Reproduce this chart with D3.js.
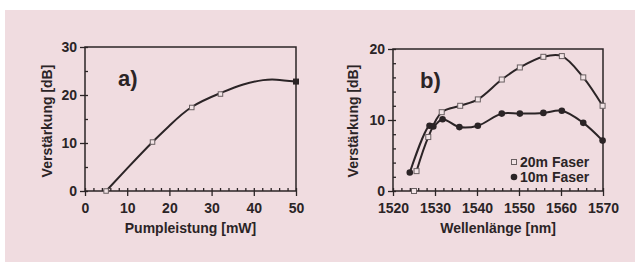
<!DOCTYPE html>
<html>
<head>
<meta charset="utf-8">
<script src="https://cdn.jsdelivr.net/npm/d3@7"></script>
<style>
  body { margin: 0; background: #fff; }
  svg { display: block; font-family: "Liberation Sans", Arial, sans-serif; font-weight: bold; }
  .tick text { font-family: "Liberation Sans", Arial, sans-serif; font-weight: bold; font-size: 14px; fill: #2b2426; }
  .tick line { stroke: #2b2426; stroke-width: 1.3; }
</style>
</head>
<body>
<svg id="chart" width="638" height="262"></svg>
<script>
// panel a: gain vs pump power
var pumpCurve = [[5, 0], [10, 4.7], [16, 10.2], [20, 13.6], [25.3, 17.5], [32.1, 20.4],
                 [37.5, 22.2], [42.2, 23.1], [45.4, 23.2], [50, 22.8]];
var pumpPoints = [[5, 0], [16, 10.2], [25.3, 17.4], [32.1, 20.2]];
var pumpPointsFilled = [[50, 22.8]];
var aXTicks = [0, 10, 20, 30, 40, 50];
var aYTicks = [0, 10, 20, 30];

// panel b: gain vs wavelength
var fiber20 = [[1525.6, 2.8], [1528.4, 7.6], [1531.6, 11.1], [1536, 12.0], [1540.2, 12.9],
               [1545.9, 15.7], [1550.2, 17.4], [1555.8, 18.9], [1560.2, 19.0],
               [1565.3, 16.0], [1569.9, 12.0]];
var fiber20Loose = [[1525, 0]];
var fiber10 = [[1524.0, 2.6], [1528.7, 9.2], [1529.6, 9.1], [1531.8, 10.1], [1535.8, 9.0],
               [1540.2, 9.2], [1545.9, 10.9], [1550.2, 10.9], [1555.8, 11.0],
               [1560.2, 11.3], [1565.3, 9.6], [1569.9, 7.1]];
var bXTicks = [1520, 1530, 1540, 1550, 1560, 1570];
var bYTicks = [0, 10, 20];
var legendLabels = ["20m Faser", "10m Faser"];

var ink = "#2b2426";
var svg = d3.select("#chart");

svg.append("rect")
    .attr("x", 5).attr("y", 10)
    .attr("width", 630).attr("height", 252)
    .attr("fill", "#f0dce0");

function range(a, b, step) {
    var out = [];
    for (var v = a; v <= b + 1e-9; v += step) out.push(v);
    return out;
}

function panel(opt) {
    var g = svg.append("g");
    var x = d3.scaleLinear().domain(opt.xDomain).range([opt.left, opt.right]);
    var y = d3.scaleLinear().domain(opt.yDomain).range([opt.bottom, opt.top]);

    // minor ticks inside
    g.append("g").attr("transform", "translate(0," + opt.bottom + ")")
        .call(d3.axisTop(x).tickValues(range(opt.xDomain[0], opt.xDomain[1], opt.xMinor))
            .tickSize(3).tickFormat(""))
        .call(function(s) { s.select(".domain").remove(); });
    g.append("g").attr("transform", "translate(" + opt.left + ",0)")
        .call(d3.axisRight(y).tickValues(range(opt.yDomain[0], opt.yDomain[1], opt.yMinor))
            .tickSize(3).tickFormat(""))
        .call(function(s) { s.select(".domain").remove(); });

    // major ticks and labels
    g.append("g").attr("transform", "translate(0," + opt.bottom + ")")
        .call(d3.axisBottom(x).tickValues(opt.xTicks).tickSize(5).tickPadding(7)
            .tickFormat(d3.format("d")))
        .call(function(s) { s.select(".domain").remove(); });
    g.append("g").attr("transform", "translate(" + opt.left + ",0)")
        .call(d3.axisLeft(y).tickValues(opt.yTicks).tickSize(5).tickPadding(3)
            .tickFormat(d3.format("d")))
        .call(function(s) { s.select(".domain").remove(); });

    g.append("rect")
        .attr("x", opt.left).attr("y", opt.top)
        .attr("width", opt.right - opt.left).attr("height", opt.bottom - opt.top)
        .attr("fill", "none").attr("stroke", ink).attr("stroke-width", 1.5);

    g.append("text")
        .attr("x", (opt.left + opt.right) / 2).attr("y", 233)
        .attr("text-anchor", "middle").attr("font-size", 14).attr("fill", ink)
        .text(opt.xTitle);
    g.append("text")
        .attr("transform", "translate(" + opt.yTitleX + ",121) rotate(-90)")
        .attr("text-anchor", "middle").attr("font-size", 14).attr("fill", ink)
        .text("Verstärkung [dB]");
    g.append("text")
        .attr("x", opt.tagX).attr("y", opt.tagY)
        .attr("font-size", 22).attr("fill", ink)
        .text(opt.tag);

    return { g: g, x: x, y: y };
}

function drawLine(p, data, curve) {
    var line = d3.line()
        .x(function(d) { return p.x(d[0]); })
        .y(function(d) { return p.y(d[1]); })
        .curve(curve);
    p.g.append("path").datum(data)
        .attr("d", line)
        .attr("fill", "none").attr("stroke", ink).attr("stroke-width", 2);
}

function drawSquares(p, data, filled, size) {
    p.g.selectAll(null).data(data).enter().append("rect")
        .attr("x", function(d) { return p.x(d[0]) - size / 2; })
        .attr("y", function(d) { return p.y(d[1]) - size / 2; })
        .attr("width", size).attr("height", size)
        .attr("fill", filled ? ink : "#f2e4e6")
        .attr("stroke", filled ? ink : "#6a6062").attr("stroke-width", 1);
}

function drawCircles(p, data) {
    p.g.selectAll(null).data(data).enter().append("circle")
        .attr("cx", function(d) { return p.x(d[0]); })
        .attr("cy", function(d) { return p.y(d[1]); })
        .attr("r", 3.3)
        .attr("fill", ink);
}

// panel a
var pa = panel({
    left: 85, right: 296, top: 47, bottom: 191,
    xDomain: [0, 50], yDomain: [0, 30],
    xTicks: aXTicks, yTicks: aYTicks, xMinor: 2, yMinor: 5,
    xTitle: "Pumpleistung [mW]", yTitleX: 52,
    tag: "a)", tagX: 118, tagY: 86
});
drawLine(pa, pumpCurve, d3.curveNatural);
drawSquares(pa, pumpPoints, false, 4.5);
drawSquares(pa, pumpPointsFilled, true, 5);

// panel b
var pb = panel({
    left: 393, right: 603, top: 49, bottom: 191,
    xDomain: [1520, 1570], yDomain: [0, 20],
    xTicks: bXTicks, yTicks: bYTicks, xMinor: 2, yMinor: 2,
    xTitle: "Wellenlänge [nm]", yTitleX: 358,
    tag: "b)", tagX: 420, tagY: 88
});
drawLine(pb, fiber20, d3.curveCatmullRom.alpha(0.5));
drawLine(pb, fiber10, d3.curveCatmullRom.alpha(0.5));
drawSquares(pb, fiber20, false, 5);
drawSquares(pb, fiber20Loose, false, 5);
drawCircles(pb, fiber10);

// legend
var leg = pb.g.append("g");
leg.append("rect").attr("x", 511.5).attr("y", 159.5).attr("width", 5).attr("height", 5)
    .attr("fill", "#f2e4e6").attr("stroke", "#6a6062");
leg.append("circle").attr("cx", 514).attr("cy", 177).attr("r", 3.3).attr("fill", ink);
leg.selectAll("text").data(legendLabels).enter().append("text")
    .attr("x", 520).attr("y", function(d, i) { return 167 + i * 15; })
    .attr("font-size", 14).attr("fill", ink)
    .text(function(d) { return d; });
</script>
</body>
</html>
